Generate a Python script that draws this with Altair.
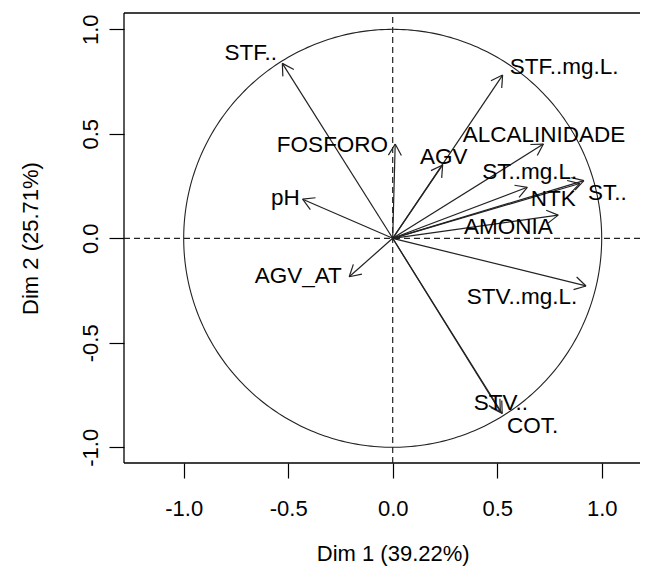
import altair as alt
import numpy as np
import pandas as pd

# ---- data (PCA variable coordinates) ----
variables = ["STF..", "STF..mg.L.", "FOSFORO", "AGV", "ALCALINIDADE", "ST..mg.L.",
             "ST..", "NTK", "AMONIA", "pH", "AGV_AT", "STV..mg.L.", "STV..", "COT."]
dim1 = [-0.528, 0.526, 0.012, 0.239, 0.721, 0.644, 0.915, 0.895, 0.792, -0.431,
        -0.208, 0.925, 0.524, 0.515]
dim2 = [0.837, 0.781, 0.451, 0.351, 0.451, 0.244, 0.276, 0.262, 0.111, 0.187,
        -0.184, -0.228, -0.838, -0.830]
label_x = [-0.679, 0.820, -0.288, 0.244, 0.724, 0.656, 1.027, 0.768, 0.553, -0.514,
           -0.452, 0.619, 0.518, 0.669]
label_y = [0.889, 0.818, 0.448, 0.390, 0.496, 0.319, 0.219, 0.186, 0.056, 0.195,
           -0.179, -0.279, -0.790, -0.898]
tick_values = [-1.0, -0.5, 0.0, 0.5, 1.0]
x_title = "Dim 1 (39.22%)"
y_title = "Dim 2 (25.71%)"

X_MIN, X_MAX = -1.2856, 1.1833
Y_MIN, Y_MAX = -1.0751, 1.078
W, H = 516, 450
FONT = "Liberation Sans"
HEAD = 13 / 209.0  # arrow head length in data units (equal aspect)

xs = alt.Scale(domain=[X_MIN, X_MAX], nice=False, zero=False)
ys = alt.Scale(domain=[Y_MIN, Y_MAX], nice=False, zero=False)

# ---- arrow segments: shaft + two head strokes ----
rows = []
for v, x, y in zip(variables, dim1, dim2):
    rows.append(dict(var=v, x=0.0, y=0.0, x2=x, y2=y))
    ang = np.arctan2(y, x)
    for da in (np.pi / 6, -np.pi / 6):
        a = ang + np.pi + da
        rows.append(dict(var=v, x=x, y=y, x2=x + HEAD * np.cos(a), y2=y + HEAD * np.sin(a)))
seg = pd.DataFrame(rows)

labels = pd.DataFrame({"var": variables, "x": label_x, "y": label_y})

theta = np.linspace(0, 2 * np.pi, 361)
circle = pd.DataFrame({"x": np.cos(theta), "y": np.sin(theta), "o": np.arange(361)})

frame = pd.DataFrame({
    "x": [X_MIN, X_MIN, X_MIN], "y": [Y_MIN, Y_MAX, Y_MIN],
    "x2": [X_MIN, X_MAX, X_MAX], "y2": [Y_MAX, Y_MAX, Y_MIN]})
dashed = pd.DataFrame({"x": [0.0, X_MIN], "y": [Y_MIN, 0.0], "x2": [0.0, X_MAX], "y2": [Y_MAX, 0.0]})

neg_fmt = "(datum.value < 0 ? '-' : '') + format(abs(datum.value), '.1f')"

x_axis = alt.Axis(values=tick_values, labelExpr=neg_fmt, title=x_title, grid=False, domain=False,
                  tickSize=15, tickColor="black", tickWidth=1.2,
                  labelFont=FONT, labelFontSize=22, labelColor="black",
                  labelBaseline="alphabetic", labelPadding=37,
                  titleFont=FONT, titleFontSize=22, titleFontWeight="normal", titleColor="black",
                  titleBaseline="alphabetic", titleAlign="center",
                  titleX=268.7, titleY=97)
y_axis = alt.Axis(values=tick_values, labelExpr=neg_fmt, title=y_title, grid=False, domain=False,
                  tickSize=15, tickColor="black", tickWidth=1.2,
                  labelFont=FONT, labelFontSize=22, labelColor="black",
                  labelAngle=270, labelAlign="center", labelBaseline="alphabetic", labelPadding=12,
                  titleFont=FONT, titleFontSize=22, titleFontWeight="normal", titleColor="black",
                  titleAngle=270, titleBaseline="alphabetic", titleAlign="center",
                  titleX=-87, titleY=225)

X = alt.X("x:Q", scale=xs, axis=x_axis)
Y = alt.Y("y:Q", scale=ys, axis=y_axis)

frame_layer = alt.Chart(frame).mark_rule(color="black", strokeWidth=1.3).encode(
    x=X, y=Y, x2="x2:Q", y2="y2:Q")

dash_layer = alt.Chart(dashed).mark_rule(color="#222222", strokeWidth=1.2, strokeDash=[6, 4]).encode(
    x=X, y=Y, x2="x2:Q", y2="y2:Q")

circle_layer = alt.Chart(circle).mark_line(color="#222222", strokeWidth=1.1).encode(
    x=X, y=Y, order="o:Q")

arrow_layer = alt.Chart(seg).mark_rule(color="#222222", strokeWidth=1.2).encode(
    x=X, y=Y, x2="x2:Q", y2="y2:Q")

text_layer = alt.Chart(labels).mark_text(font=FONT, fontSize=22.5, color="black",
                                         align="center", baseline="middle").encode(
    x=X, y=Y, text="var:N")

chart = alt.layer(frame_layer, dash_layer, circle_layer, arrow_layer, text_layer).properties(
    width=W, height=H,
    autosize=alt.AutoSizeParams(type="none"),
    padding={"left": 116, "top": 5, "right": 0, "bottom": 103},
    background="white",
).configure_view(stroke=None)

chart.save("out.html", embed_options={"renderer": "svg", "actions": False})
